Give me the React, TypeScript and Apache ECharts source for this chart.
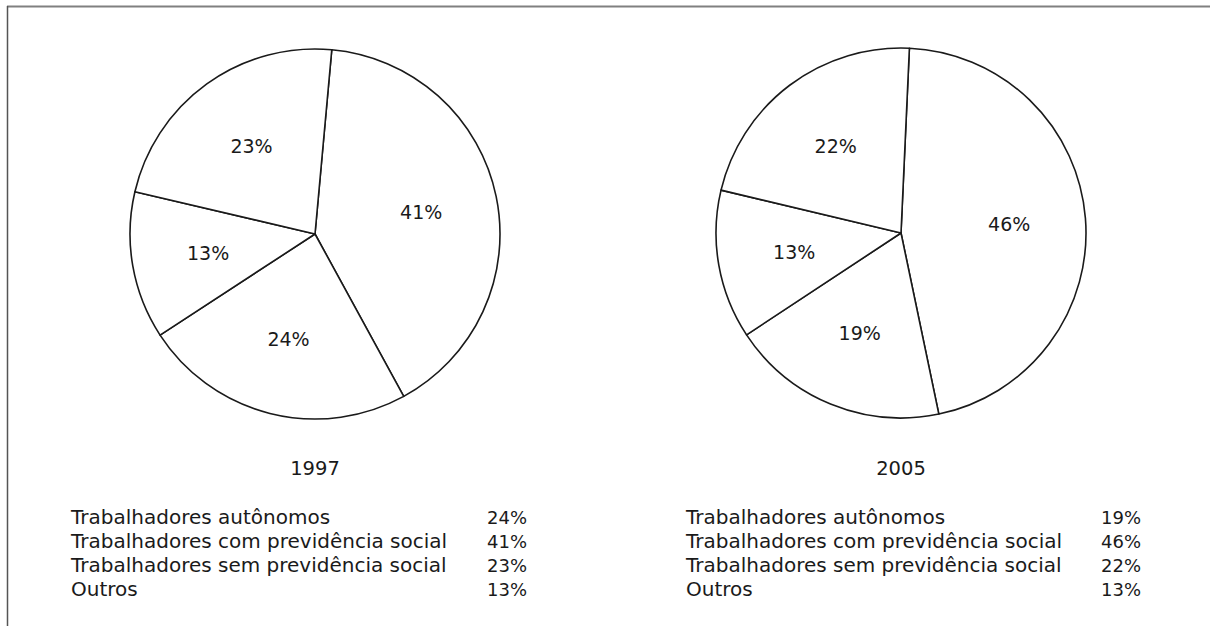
import React, { useEffect, useRef } from "react";
import * as echarts from "echarts";

const categories = [
  "Trabalhadores autônomos",
  "Trabalhadores com previdência social",
  "Trabalhadores sem previdência social",
  "Outros",
];
const years = ["1997", "2005"];
const values1997 = [24, 41, 23, 13];
const values2005 = [19, 46, 22, 13];
// clockwise drawing order starting near the top
const pieOrder = [1, 0, 3, 2];
const startAngles = [84.8, 87.4];

const FONT = "'DejaVu Sans', sans-serif";
const TEXT = "#1a1a1a";

export default function App() {
  const ref = useRef<HTMLDivElement>(null);
  useEffect(() => {
    if (!ref.current) return;
    const chart = echarts.init(ref.current, undefined, { renderer: "svg" });
    const allValues = [values1997, values2005];
    const centers = [
      [315, 234],
      [901, 233],
    ];
    const R = 185;
    const series: any[] = [];
    const graphics: any[] = [];
    allValues.forEach((vals, k) => {
      const data = pieOrder.map((i) => ({ name: categories[i], value: vals[i] }));
      series.push({
        type: "pie",
        center: centers[k],
        radius: [0, R],
        startAngle: startAngles[k],
        silent: true,
        data,
        label: { show: false },
        labelLine: { show: false },
        itemStyle: { color: "#ffffff", borderColor: "#1a1a1a", borderWidth: 1.6 },
      });
      series.push({
        type: "pie",
        center: centers[k],
        radius: [26, R],
        startAngle: startAngles[k],
        silent: true,
        data,
        label: {
          show: true,
          position: "inside",
          formatter: "{c}%",
          fontFamily: FONT,
          fontSize: 19,
          color: TEXT,
        },
        labelLine: { show: false },
        itemStyle: { color: "rgba(0,0,0,0)", borderWidth: 0 },
      });
      const left = [71, 686][k];
      const right = [527, 1141][k];
      categories.forEach((c, i) => {
        const y = 517 + i * 24;
        graphics.push({
          type: "text",
          x: left,
          y,
          style: { text: c, fontFamily: FONT, fontSize: 20, fill: TEXT, textAlign: "left", textVerticalAlign: "middle" },
        });
        graphics.push({
          type: "text",
          x: right,
          y,
          style: { text: vals[i] + "%", fontFamily: FONT, fontSize: 18, fill: TEXT, textAlign: "right", textVerticalAlign: "middle" },
        });
      });
      graphics.push({
        type: "text",
        x: centers[k][0],
        y: 468,
        style: { text: years[k], fontFamily: FONT, fontSize: 19.5, fill: TEXT, textAlign: "center", textVerticalAlign: "middle" },
      });
    });
    graphics.push({ type: "line", shape: { x1: 7, y1: 6.5, x2: 1210, y2: 6.5 }, style: { stroke: "#808080", lineWidth: 2 } });
    graphics.push({ type: "line", shape: { x1: 7.5, y1: 6, x2: 7.5, y2: 626 }, style: { stroke: "#555555", lineWidth: 1.5 } });
    chart.setOption({
      animation: false,
      backgroundColor: "#ffffff",
      series,
      graphic: graphics,
    });
    return () => chart.dispose();
  }, []);
  return (
    <div
      ref={ref}
      style={{ position: "fixed", left: 0, top: 0, width: 1210, height: 626, background: "#fff" }}
    />
  );
}
